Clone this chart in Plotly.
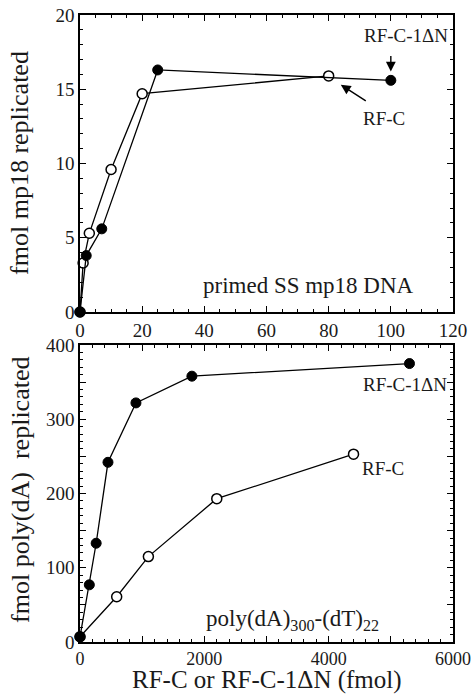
import plotly.graph_objects as go
from plotly.subplots import make_subplots

# --- top panel: primed SS mp18 DNA ---
top_mut_x = [0, 2, 7, 25, 100]
top_mut_y = [0, 3.8, 5.6, 16.3, 15.6]
top_wt_x = [0, 1, 3, 10, 20, 80]
top_wt_y = [0, 3.3, 5.3, 9.6, 14.7, 15.9]

# --- bottom panel: poly(dA)300-(dT)22 ---
bot_mut_x = [0, 150, 260, 450, 900, 1800, 5300]
bot_mut_y = [7, 77, 133, 242, 322, 358, 375]
bot_wt_x = [0, 590, 1100, 2200, 4400]
bot_wt_y = [7, 61, 115, 193, 253]

top_xticks = [0, 20, 40, 60, 80, 100, 120]
top_yticks = [0, 5, 10, 15, 20]
bot_xticks = [0, 1000, 2000, 3000, 4000, 5000, 6000]
bot_xtext = ["0", " ", "2000", " ", "4000", " ", "6000"]
bot_yticks = [0, 50, 100, 150, 200, 250, 300, 350, 400]
bot_ytext = ["0", " ", "100", " ", "200", " ", "300", " ", "400"]

FONT = "Liberation Serif"
INK = "#1a1a1a"

fig = make_subplots(rows=2, cols=1, vertical_spacing=0.0526)

line = dict(color="black", width=1.3)
filled = dict(symbol="circle", size=10, color="black", line=dict(color="black", width=1))
opened = dict(symbol="circle", size=10, color="white", line=dict(color="black", width=1.5))

fig.add_trace(go.Scatter(x=top_wt_x, y=top_wt_y, mode="lines+markers", line=line, marker=opened,
                         showlegend=False, cliponaxis=False), row=1, col=1)
fig.add_trace(go.Scatter(x=top_mut_x, y=top_mut_y, mode="lines+markers", line=line, marker=filled,
                         showlegend=False, cliponaxis=False), row=1, col=1)
fig.add_trace(go.Scatter(x=bot_wt_x, y=bot_wt_y, mode="lines+markers", line=line, marker=opened,
                         showlegend=False, cliponaxis=False), row=2, col=1)
fig.add_trace(go.Scatter(x=bot_mut_x, y=bot_mut_y, mode="lines+markers", line=line, marker=filled,
                         showlegend=False, cliponaxis=False), row=2, col=1)

axcommon = dict(showgrid=False, zeroline=False, showline=True, linecolor="black", linewidth=1.5,
                mirror="ticks", ticks="inside", ticklen=6, tickwidth=1.2, tickcolor="black",
                automargin=False,
                tickfont=dict(family=FONT, size=19, color=INK))
minor = dict(ticklen=3, tickcolor="black", ticks="inside", tickwidth=1)

fig.update_xaxes(**axcommon, range=[0, 120], tickvals=top_xticks,
                 minor=dict(dtick=5, **minor), row=1, col=1)
fig.update_yaxes(**axcommon, range=[0, 20], tickvals=top_yticks,
                 minor=dict(dtick=1, **minor), row=1, col=1)
fig.update_xaxes(**axcommon, range=[0, 6000], tickvals=bot_xticks, ticktext=bot_xtext,
                 minor=dict(dtick=200, **minor), row=2, col=1)
fig.update_xaxes(tickfont=dict(family=FONT, size=18, color=INK), row=2, col=1)
fig.update_yaxes(**axcommon, range=[0, 400], tickvals=bot_yticks, ticktext=bot_ytext,
                 minor=dict(dtick=10, **minor), row=2, col=1)

fig.update_layout(yaxis=dict(domain=[0.5263, 1]), yaxis2=dict(domain=[0, 0.4737]))

ann = []
tf = dict(family=FONT, size=19, color=INK)
big = dict(family=FONT, size=23, color=INK)
# text labels
ann.append(dict(x=104.8, y=18.6, xref="x", yref="y", text="RF-C-1ΔN", showarrow=False, font=tf))
ann.append(dict(x=97.7, y=13.0, xref="x", yref="y", text="RF-C", showarrow=False, font=tf))
ann.append(dict(x=73.5, y=1.8, xref="x", yref="y", text="primed SS mp18 DNA", showarrow=False,
                font=big))
ann.append(dict(x=5228, y=347, xref="x2", yref="y2", text="RF-C-1ΔN", showarrow=False, font=tf))
ann.append(dict(x=4874, y=233, xref="x2", yref="y2", text="RF-C", showarrow=False, font=tf))
ann.append(dict(x=3420, y=30, xref="x2", yref="y2", text="poly(dA)<sub>300</sub>-(dT)<sub>22</sub>",
                showarrow=False, font=big))
# arrows
ann.append(dict(x=100, y=16.2, xref="x", yref="y", text=" ", showarrow=True, ax=0, ay=-24,
                arrowhead=2, arrowsize=1.4, arrowwidth=1.4, arrowcolor="black"))
ann.append(dict(x=83.9, y=15.3, xref="x", yref="y", text=" ", showarrow=True, ax=28, ay=18,
                arrowhead=2, arrowsize=1.4, arrowwidth=1.4, arrowcolor="black"))
# axis titles
titf = dict(family=FONT, size=26, color=INK)
ann.append(dict(x=-0.161, y=0.764, xref="paper", yref="paper", text="fmol mp18 replicated",
                textangle=-90, showarrow=False, font=titf, xanchor="center", yanchor="middle"))
ann.append(dict(x=-0.161, y=0.2424, xref="paper", yref="paper",
                text="fmol poly(dA)\u00a0\u00a0replicated",
                textangle=-90, showarrow=False, font=titf, xanchor="center", yanchor="middle"))
ann.append(dict(x=0.501, y=-0.0845, xref="paper", yref="paper", text="RF-C or RF-C-1ΔN (fmol)",
                showarrow=False, font=dict(family=FONT, size=25, color=INK),
                xanchor="center", yanchor="bottom", borderpad=0))

fig.update_layout(
    width=471, height=695,
    margin=dict(l=80, r=18, t=15, b=53),
    paper_bgcolor="white", plot_bgcolor="white",
    annotations=ann,
    font=dict(family=FONT, color=INK),
)

fig.write_html("out.html", config={"displayModeBar": False},
               post_script="document.body.style.margin='0';")
